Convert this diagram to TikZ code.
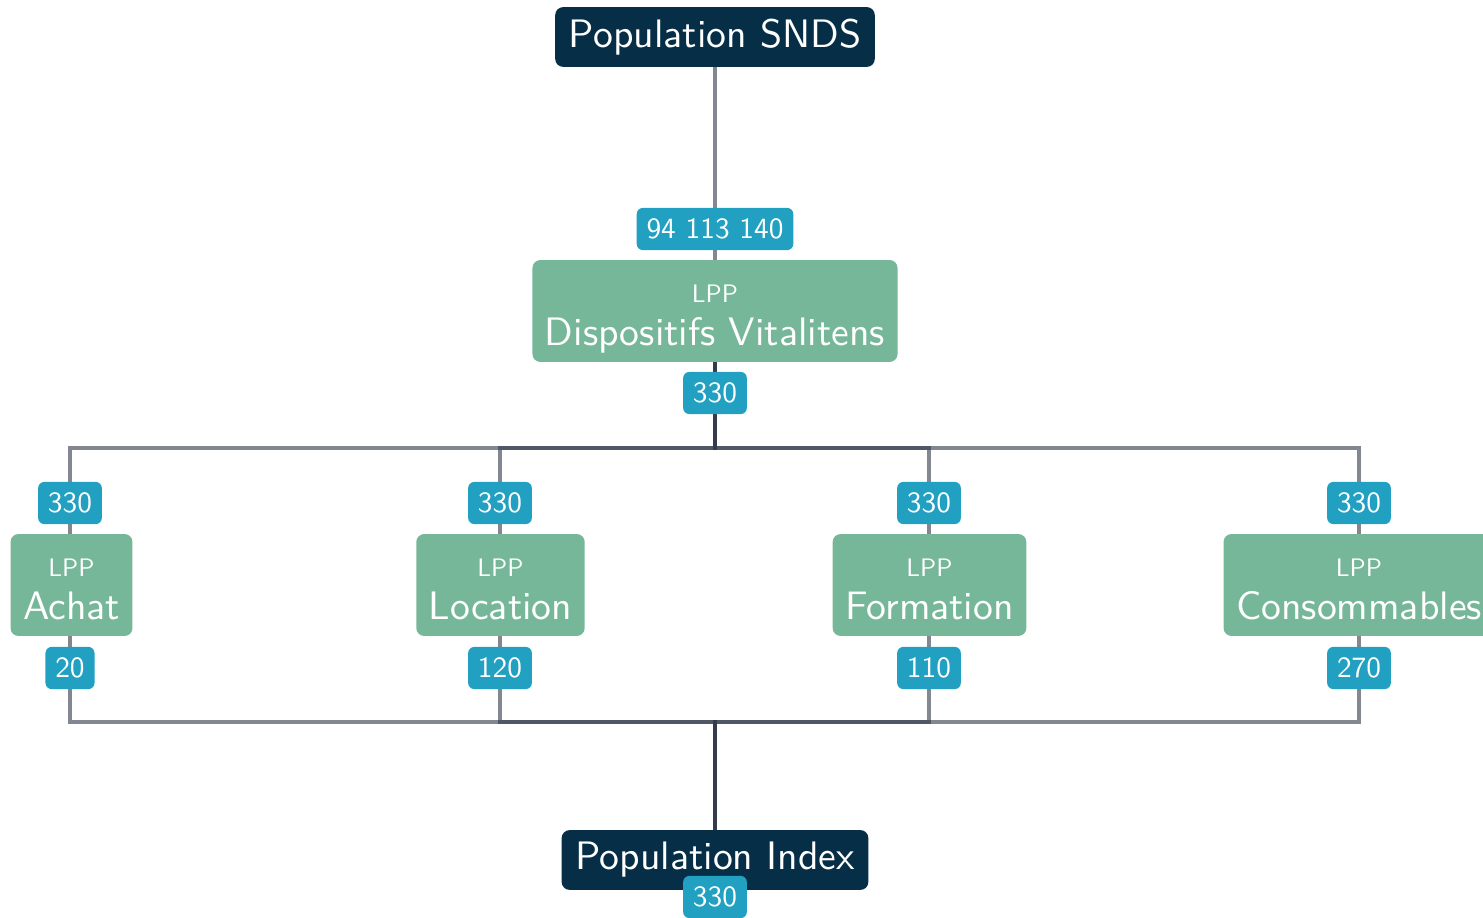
\documentclass[tikz,border=0pt]{standalone}
\usetikzlibrary{backgrounds}
\definecolor{navy}{HTML}{062F47}
\definecolor{sage}{HTML}{76B799}
\definecolor{cyanlab}{HTML}{22A0C1}
\definecolor{wire}{HTML}{2F3747}
\font\bigsans="[lmsans10-regular.otf]" at 22.6pt
\font\lppsans="[lmsans10-regular.otf]" at 14.4pt
\font\cntsans="[lmsans10-regular.otf]" at 16.7pt
\newcommand*{\actfont}{\bigsans\baselineskip=24.5pt\relax}
\newcommand*{\lpp}[1]{\rule{0pt}{20pt}{\lppsans LPP}\\#1\rule[-5pt]{0pt}{5pt}}

\begin{document}
\begin{tikzpicture}[
  pop/.style={fill=navy,text=white,rounded corners=4.5pt,inner xsep=7.8pt,
    minimum height=34pt,font=\bigsans},
  act/.style={fill=sage,text=white,rounded corners=4.5pt,inner xsep=7.1pt,
    minimum height=58pt,align=center,font=\actfont},
  cnt/.style={fill=cyanlab,text=white,rounded corners=3.5pt,inner xsep=5.6pt,
    minimum height=24pt,font=\cntsans},
  link/.style={wire,line width=2pt,draw opacity=.6}]
\useasboundingbox (0,0) rectangle (29.66,-18.36);
% Top of the tree
\node[pop] (snds) at (14.3,-0.74) {Population SNDS};
\node[cnt] (cnttop) at (14.3,-4.58) {94 113 140};
\node[act] (disp) at (14.3,-6.22) {\lpp{Dispositifs Vitalitens}};
\node[cnt] (cntdisp) at (14.3,-7.86) {330};
% Where the lines split and join again
\coordinate (split) at (14.3,-8.96);
\coordinate (join) at (14.3,-14.44);
% The four kinds of LPP
\node[act] (achat) at (1.43,-11.7) {\lpp{Achat}};
\node[act] (location) at (10.01,-11.7) {\lpp{Location}};
\node[act] (formation) at (18.59,-11.7) {\lpp{Formation}};
\node[act] (conso) at (27.18,-11.7) {\lpp{Consommables}};
% Counts above and below them
\node[cnt] (achatin) at (1.4,-10.06) {330};
\node[cnt] (locationin) at (10.0,-10.06) {330};
\node[cnt] (formationin) at (18.58,-10.06) {330};
\node[cnt] (consoin) at (27.18,-10.06) {330};
\node[cnt] (achatout) at (1.4,-13.36) {20};
\node[cnt] (locationout) at (10.0,-13.36) {120};
\node[cnt] (formationout) at (18.58,-13.36) {110};
\node[cnt] (consoout) at (27.18,-13.36) {270};
% Bottom of the tree
\node[pop] (index) at (14.3,-17.2) {Population Index};
\node[cnt] (cntindex) at (14.3,-17.94) {330};
% Lines behind the boxes
\begin{pgfonlayer}{background}
\draw[link] (snds) -- (disp);
\draw[link] (disp) -- (split) -| (achatin);
\draw[link] (disp) -- (split) -| (locationin);
\draw[link] (disp) -- (split) -| (formationin);
\draw[link] (disp) -- (split) -| (consoin);
\draw[link] (achatin) -- (achatout) |- (join) -- (index);
\draw[link] (locationin) -- (locationout) |- (join) -- (index);
\draw[link] (formationin) -- (formationout) |- (join) -- (index);
\draw[link] (consoin) -- (consoout) |- (join) -- (index);
\end{pgfonlayer}
\end{tikzpicture}
\end{document}
